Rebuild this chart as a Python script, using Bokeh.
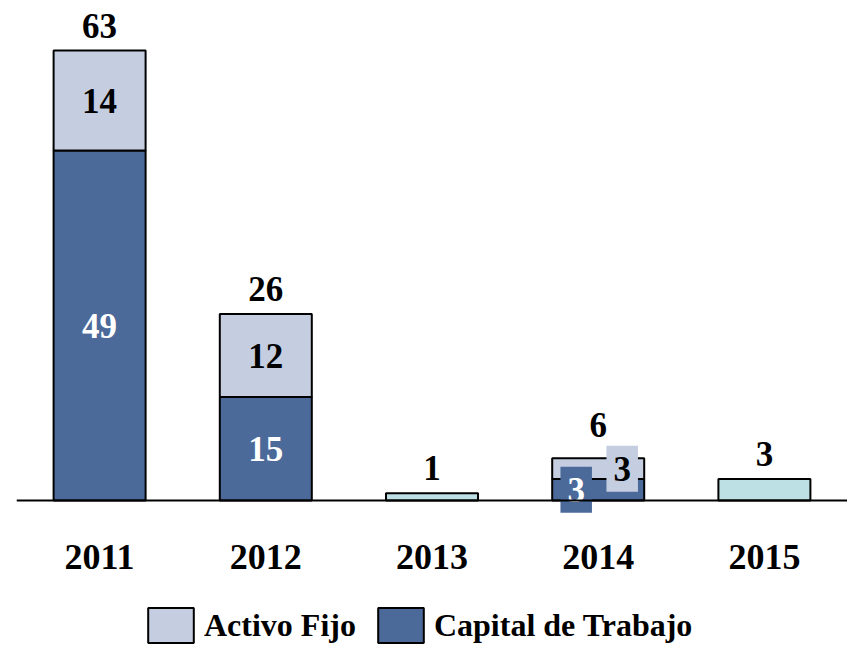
from bokeh.plotting import figure
from bokeh.models import ColumnDataSource, Range1d, Span, Legend, LegendItem
from bokeh.core.properties import value
from bokeh.embed import file_html
from bokeh.resources import INLINE

# ---- data ----
years = ["2011", "2012", "2013", "2014", "2015"]
capital = [49, 14.5, 0, 3.0, 0]          # Capital de Trabajo
activo = [14, 11.6, 0, 2.9, 0]           # Activo Fijo
otros = [0, 0, 1, 0, 3]                  # single (teal) bars
total_labels = ["63", "26", "1", "6", "3"]
capital_labels = ["49", "15", "", "3", ""]
activo_labels = ["14", "12", "", "3", ""]

C_CAP = "#4B6A9A"
C_ACT = "#C4CEE0"
C_OTR = "#BCE0E3"
FONT = value("Liberation Serif")

W, H = 847, 647
px_per_unit = 450 / 63.0
base_px = 500
p = figure(width=W, height=H, output_backend="svg", toolbar_location=None,
           x_axis_type=None, y_axis_type=None,
           min_border_left=16, min_border_right=0, min_border_top=0, min_border_bottom=0,
           x_range=Range1d(-0.5, 4.5 + (W - 16 - 5 * 166.2) / 166.2),
           y_range=Range1d(-(H - base_px) / px_per_unit, base_px / px_per_unit))
p.outline_line_color = None
p.background_fill_color = "white"
p.border_fill_color = "white"
p.xgrid.visible = False
p.ygrid.visible = False

xs = list(range(len(years)))
bw = 92 / 166.2

p.add_layout(Span(location=0, dimension="width", line_color="black", line_width=2))

def src(idx, bottoms, tops):
    return ColumnDataSource(dict(x=[xs[i] for i in idx],
                                 bottom=[bottoms[i] for i in idx],
                                 top=[tops[i] for i in idx]))

ic = [i for i in xs if capital[i] > 0]
ia = [i for i in xs if activo[i] > 0]
io = [i for i in xs if otros[i] > 0]
cap_top = capital[:]
act_top = [capital[i] + activo[i] for i in xs]
zeros = [0] * len(xs)

r_cap = p.vbar(x="x", bottom="bottom", top="top", width=bw, source=src(ic, zeros, cap_top),
               fill_color=C_CAP, line_color="black", line_width=2)
r_act = p.vbar(x="x", bottom="bottom", top="top", width=bw, source=src(ia, capital, act_top),
               fill_color=C_ACT, line_color="black", line_width=2)
r_otr = p.vbar(x="x", bottom="bottom", top="top", width=bw, source=src(io, zeros, otros),
               fill_color=C_OTR, line_color="black", line_width=2)

totals = [capital[i] + activo[i] + otros[i] for i in xs]
special = [i for i in xs if capital[i] > 0 and capital[i] < 5]   # small stacked bar: boxed labels
tot_off = [-33 if i in special else -25 for i in xs]
p.text(x=xs, y=totals, text=total_labels, y_offset=tot_off,
       text_align="center", text_baseline="middle", text_font=FONT,
       text_font_style="bold", text_font_size="35px", text_color="black")

# segment labels (inside bars)
norm = [i for i in ic if i not in special]
p.text(x=[xs[i] for i in norm], y=[capital[i] / 2 for i in norm],
       text=[capital_labels[i] for i in norm], text_align="center", text_baseline="middle",
       text_font=FONT, text_font_style="bold", text_font_size="35px", text_color="white")
p.text(x=[xs[i] for i in norm], y=[capital[i] + activo[i] / 2 for i in norm],
       text=[activo_labels[i] for i in norm], text_align="center", text_baseline="middle",
       text_font=FONT, text_font_style="bold", text_font_size="35px", text_color="black")

# boxed labels for the small stacked bar
pad = dict(left=7, right=7, top=11, bottom=11)
p.text(x=[xs[i] for i in special], y=[capital[i] / 2 for i in special],
       text=[capital_labels[i] for i in special], x_offset=-22,
       text_align="center", text_baseline="middle",
       text_font=FONT, text_font_style="bold", text_font_size="35px", text_color="white",
       background_fill_color=C_CAP, padding=pad)
p.text(x=[xs[i] for i in special], y=[capital[i] + activo[i] / 2 for i in special],
       text=[activo_labels[i] for i in special], x_offset=24,
       text_align="center", text_baseline="middle",
       text_font=FONT, text_font_style="bold", text_font_size="35px", text_color="black",
       background_fill_color=C_ACT, padding=pad)

# category labels
p.text(x=xs, y=[0] * len(xs), text=years, y_offset=56,
       text_align="center", text_baseline="middle", text_font=FONT,
       text_font_style="bold", text_font_size="36px", text_color="black")

legend = Legend(items=[LegendItem(label="Activo Fijo", renderers=[r_act]),
                       LegendItem(label="Capital de Trabajo", renderers=[r_cap])],
                location=(126, 0), orientation="horizontal",
                glyph_width=57, glyph_height=44, label_standoff=5, spacing=16,
                padding=0, margin=0, border_line_color=None, background_fill_alpha=0,
                label_text_font="Liberation Serif", label_text_font_style="bold",
                label_text_font_size="32px", label_text_color="black")
p.add_layout(legend)

open("out.html", "w").write(file_html(p, INLINE))
